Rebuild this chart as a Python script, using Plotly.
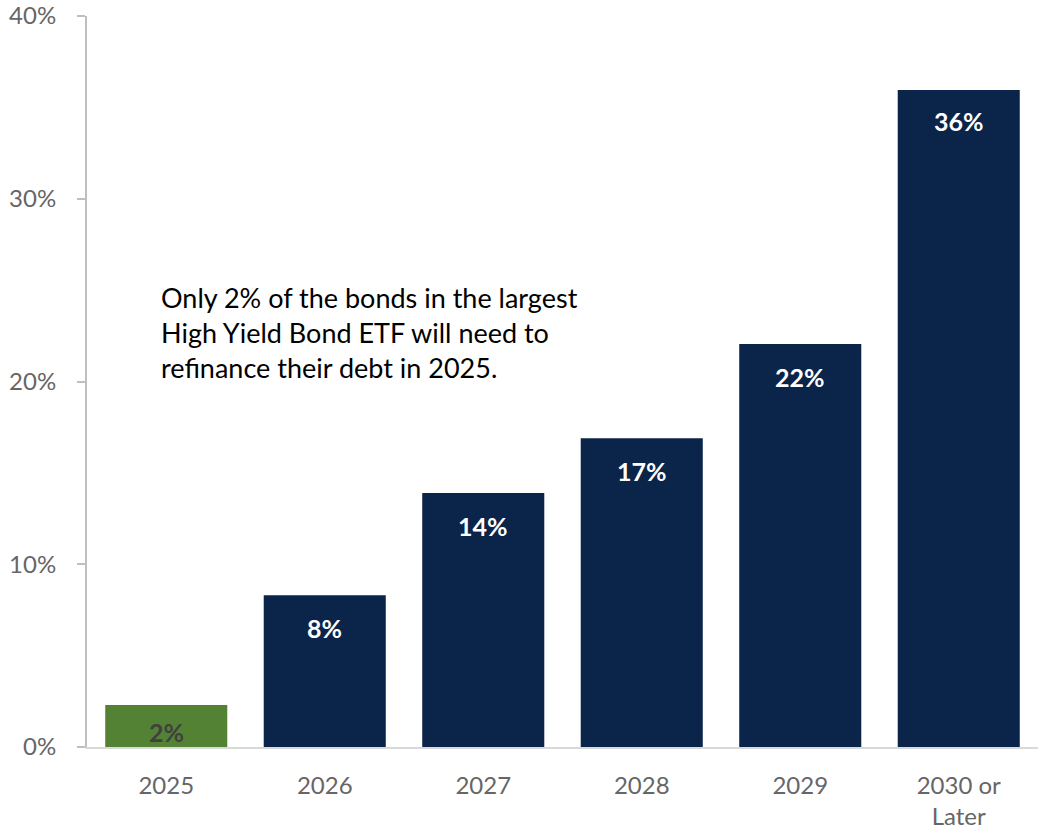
import plotly.graph_objects as go

categories = ["2025", "2026", "2027", "2028", "2029", "2030 or<br>Later"]
values = [2.3, 8.3, 13.9, 16.9, 22.05, 35.95]
labels = ["2%", "8%", "14%", "17%", "22%", "36%"]
bar_colors = ["#548235", "#0b2449", "#0b2449", "#0b2449", "#0b2449", "#0b2449"]
label_colors = ["#404040", "#ffffff", "#ffffff", "#ffffff", "#ffffff", "#ffffff"]
label_shifts = [-10, -16, -16, -16, -16, -14]
y_ticks = [0, 10, 20, 30, 40]
y_ticklabels = ["0%", "10%", "20%", "30%", "40%"]
note = "Only 2% of the bonds in the largest<br>High Yield Bond ETF will need to<br>refinance their debt in 2025."

FONT = "Lato, 'Open Sans', sans-serif"

fig = go.Figure()
fig.add_trace(go.Bar(
    x=list(range(len(categories))), y=values,
    marker=dict(color=bar_colors, line=dict(width=0)),
    width=0.77, hoverinfo="skip",
))

for i, (v, lab, col, sh) in enumerate(zip(values, labels, label_colors, label_shifts)):
    fig.add_annotation(
        x=i, y=v, text=f"<b>{lab}</b>", showarrow=False,
        yanchor="top", yshift=sh, xanchor="center",
        font=dict(family=FONT, size=25, color=col),
    )

fig.add_annotation(
    xref="paper", yref="paper", x=0.076, y=0.64,
    xanchor="left", yanchor="top", align="left",
    text=note, showarrow=False,
    font=dict(family=FONT, size=27, color="#000000"),
)

fig.update_layout(
    width=1038, height=836,
    margin=dict(l=87, r=0, t=14, b=89),
    paper_bgcolor="white", plot_bgcolor="white",
    showlegend=False,
    font=dict(family=FONT),
    xaxis=dict(
        tickmode="array", tickvals=list(range(len(categories))), ticktext=categories,
        range=[-0.5, len(categories) - 0.5],
        showline=True, linecolor="#d9d9d9", linewidth=2,
        showgrid=False, zeroline=False, ticks="",
        ticklabelstandoff=16,
        tickfont=dict(family=FONT, size=24, color="#666666"),
    ),
    yaxis=dict(
        tickmode="array", tickvals=y_ticks, ticktext=y_ticklabels,
        range=[0, 40],
        showline=True, linecolor="#bfbfbf", linewidth=2,
        ticks="outside", ticklen=8, tickcolor="#bfbfbf", tickwidth=2,
        showgrid=False, zeroline=False,
        ticklabelstandoff=16,
        ticklabeloverflow="allow",
        tickfont=dict(family=FONT, size=24, color="#666666"),
    ),
)

fig.write_html("out.html")
